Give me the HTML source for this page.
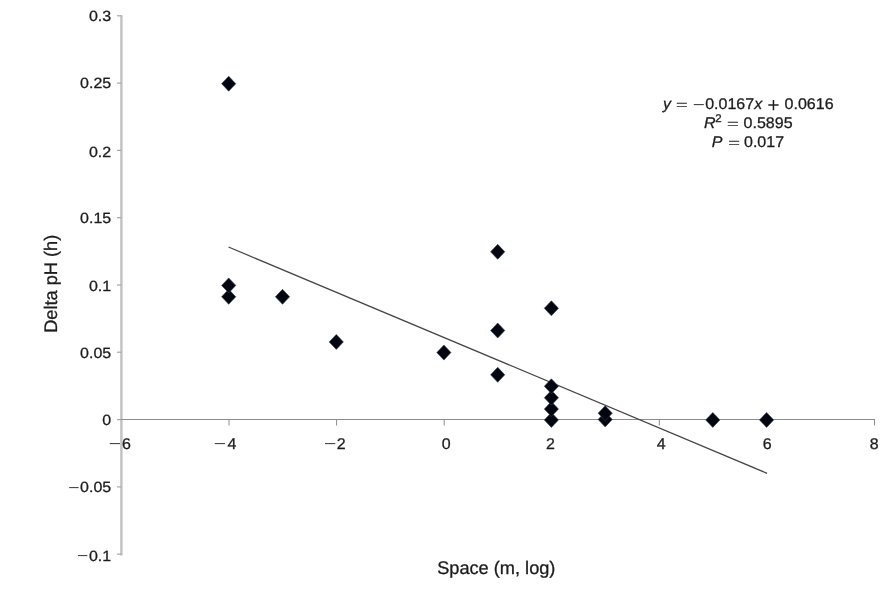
<!DOCTYPE html>
<html><head><meta charset="utf-8"><title>Chart</title>
<style>
html,body{margin:0;padding:0;background:#fff;}
body{width:883px;height:590px;overflow:hidden;position:relative;}
svg{position:absolute;left:0;top:0;display:block;}
text{font-family:"Liberation Sans",sans-serif;text-rendering:geometricPrecision;fill:#1c1c1c;stroke:#1c1c1c;stroke-width:0.3px;stroke-linejoin:round;}
.t{font-size:16px;}
.l{font-size:18.2px;}
.e{font-size:16px;}
.i{font-style:italic;}
.o{font-size:16px;stroke:none;}
.s{font-size:11.5px;}
</style></head><body>
<svg width="883" height="590" viewBox="0 0 883 590">
<rect width="883" height="590" fill="#ffffff"/>

<line x1="121.4" y1="15.2" x2="121.4" y2="555.5" stroke="#c1c1c1" stroke-width="2.4"/>
<line x1="120.2" y1="419.5" x2="875" y2="419.5" stroke="#8c8c8c" stroke-width="1.15"/>
<line x1="117.0" y1="15.8" x2="121.4" y2="15.8" stroke="#a6a6a6" stroke-width="1.2"/>
<text class="t" transform="translate(111.2 21.3) scale(1 0.925)" text-anchor="end">0.3</text>
<line x1="117.0" y1="83.1" x2="121.4" y2="83.1" stroke="#a6a6a6" stroke-width="1.2"/>
<text class="t" transform="translate(111.2 88.0) scale(1 0.925)" text-anchor="end">0.25</text>
<line x1="117.0" y1="150.4" x2="121.4" y2="150.4" stroke="#a6a6a6" stroke-width="1.2"/>
<text class="t" transform="translate(111.2 156.8) scale(1 0.925)" text-anchor="end">0.2</text>
<line x1="117.0" y1="217.7" x2="121.4" y2="217.7" stroke="#a6a6a6" stroke-width="1.2"/>
<text class="t" transform="translate(111.2 222.5) scale(1 0.925)" text-anchor="end">0.15</text>
<line x1="117.0" y1="285.0" x2="121.4" y2="285.0" stroke="#a6a6a6" stroke-width="1.2"/>
<text class="t" transform="translate(111.2 291.4) scale(1 0.925)" text-anchor="end">0.1</text>
<line x1="117.0" y1="352.2" x2="121.4" y2="352.2" stroke="#a6a6a6" stroke-width="1.2"/>
<text class="t" transform="translate(111.2 357.5) scale(1 0.925)" text-anchor="end">0.05</text>
<line x1="117.0" y1="419.6" x2="121.4" y2="419.6" stroke="#a6a6a6" stroke-width="1.2"/>
<text class="t" transform="translate(111.2 424.6) scale(1 0.925)" text-anchor="end">0</text>
<line x1="117.0" y1="486.9" x2="121.4" y2="486.9" stroke="#a6a6a6" stroke-width="1.2"/>
<text class="t" transform="translate(111.2 492.1) scale(1 0.925)" text-anchor="end">0.05</text>
<text class="o" transform="translate(68.2 491.6) scale(1.209 0.82)">−</text>
<line x1="117.0" y1="554.1" x2="121.4" y2="554.1" stroke="#a6a6a6" stroke-width="1.2"/>
<text class="t" transform="translate(111.2 560.8) scale(1 0.925)" text-anchor="end">0.1</text>
<text class="o" transform="translate(77.1 560.1) scale(1.209 0.82)">−</text>
<text class="t" transform="translate(126.5 448.5) scale(1 0.97)" text-anchor="middle">6</text>
<text class="o" transform="translate(108.8 447.5) scale(1.316 0.82)">−</text>
<line x1="229.0" y1="419.5" x2="229.0" y2="425.5" stroke="#8e8e8e" stroke-width="1"/>
<text class="t" transform="translate(232.0 448.5) scale(1 0.97)" text-anchor="middle">4</text>
<text class="o" transform="translate(213.8 447.5) scale(1.316 0.82)">−</text>
<line x1="336.6" y1="419.5" x2="336.6" y2="425.5" stroke="#8e8e8e" stroke-width="1"/>
<text class="t" transform="translate(341.1 448.5) scale(1 0.97)" text-anchor="middle">2</text>
<text class="o" transform="translate(323.9 447.5) scale(1.316 0.82)">−</text>
<line x1="444.2" y1="419.5" x2="444.2" y2="425.5" stroke="#8e8e8e" stroke-width="1"/>
<text class="t" transform="translate(446.2 448.5) scale(1 0.97)" text-anchor="middle">0</text>
<line x1="551.7" y1="419.5" x2="551.7" y2="425.5" stroke="#8e8e8e" stroke-width="1"/>
<text class="t" transform="translate(550.5 448.5) scale(1 0.97)" text-anchor="middle">2</text>
<line x1="659.3" y1="419.5" x2="659.3" y2="425.5" stroke="#8e8e8e" stroke-width="1"/>
<text class="t" transform="translate(661.3 448.5) scale(1 0.97)" text-anchor="middle">4</text>
<line x1="766.9" y1="419.5" x2="766.9" y2="425.5" stroke="#8e8e8e" stroke-width="1"/>
<text class="t" transform="translate(767.3 448.5) scale(1 0.97)" text-anchor="middle">6</text>
<line x1="874.5" y1="419.5" x2="874.5" y2="425.5" stroke="#8e8e8e" stroke-width="1"/>
<text class="t" transform="translate(874.2 448.5) scale(1 0.97)" text-anchor="middle">8</text>
<line x1="228.5" y1="247.0" x2="767.1" y2="473.3" stroke="#464646" stroke-width="1.25"/>
<path d="M228.7 289.3L235.8 296.8L228.7 304.3L221.6 296.8Z" fill="#03050f" stroke="#333f5c" stroke-width="0.6"/>
<path d="M228.7 277.9L235.8 285.4L228.7 292.9L221.6 285.4Z" fill="#03050f" stroke="#333f5c" stroke-width="0.6"/>
<path d="M228.7 76.2L235.8 83.7L228.7 91.2L221.6 83.7Z" fill="#03050f" stroke="#333f5c" stroke-width="0.6"/>
<path d="M282.5 289.3L289.6 296.8L282.5 304.3L275.4 296.8Z" fill="#03050f" stroke="#333f5c" stroke-width="0.6"/>
<path d="M336.3 334.4L343.4 341.9L336.3 349.4L329.2 341.9Z" fill="#03050f" stroke="#333f5c" stroke-width="0.6"/>
<path d="M443.9 345.1L451.0 352.6L443.9 360.1L436.8 352.6Z" fill="#03050f" stroke="#333f5c" stroke-width="0.6"/>
<path d="M497.7 367.3L504.8 374.8L497.7 382.3L490.6 374.8Z" fill="#03050f" stroke="#333f5c" stroke-width="0.6"/>
<path d="M497.7 323.0L504.8 330.5L497.7 338.0L490.6 330.5Z" fill="#03050f" stroke="#333f5c" stroke-width="0.6"/>
<path d="M497.7 244.3L504.8 251.8L497.7 259.3L490.6 251.8Z" fill="#03050f" stroke="#333f5c" stroke-width="0.6"/>
<path d="M551.4 412.4L558.5 419.9L551.4 427.4L544.3 419.9Z" fill="#03050f" stroke="#333f5c" stroke-width="0.6"/>
<path d="M551.4 401.6L558.5 409.1L551.4 416.6L544.3 409.1Z" fill="#03050f" stroke="#333f5c" stroke-width="0.6"/>
<path d="M551.4 390.2L558.5 397.7L551.4 405.2L544.3 397.7Z" fill="#03050f" stroke="#333f5c" stroke-width="0.6"/>
<path d="M551.4 378.8L558.5 386.3L551.4 393.8L544.3 386.3Z" fill="#03050f" stroke="#333f5c" stroke-width="0.6"/>
<path d="M551.4 300.8L558.5 308.3L551.4 315.8L544.3 308.3Z" fill="#03050f" stroke="#333f5c" stroke-width="0.6"/>
<path d="M605.2 411.9L612.3 419.4L605.2 426.9L598.1 419.4Z" fill="#03050f" stroke="#333f5c" stroke-width="0.6"/>
<path d="M605.2 405.7L612.3 413.2L605.2 420.7L598.1 413.2Z" fill="#03050f" stroke="#333f5c" stroke-width="0.6"/>
<path d="M712.8 412.4L719.9 419.9L712.8 427.4L705.7 419.9Z" fill="#03050f" stroke="#333f5c" stroke-width="0.6"/>
<path d="M766.6 412.4L773.7 419.9L766.6 427.4L759.5 419.9Z" fill="#03050f" stroke="#333f5c" stroke-width="0.6"/>
<text class="l" x="496.3" y="573.7" text-anchor="middle">Space (m, log)</text>
<text class="l" transform="translate(56.8 283.8) rotate(-90)" text-anchor="middle">Delta pH (h)</text>
<text class="e i" transform="translate(662.9 109.4) scale(1 0.97)">y</text>
<text class="o" transform="translate(675.8 108.7) scale(1.306 0.8)">=</text>
<text class="o" transform="translate(692.7 108.8) scale(1.295 0.82)">−</text>
<text class="e" transform="translate(705.2 109.4) scale(1 0.97)">0.0167</text>
<text class="e i" transform="translate(754.2 109.4) scale(1 0.97)">x</text>
<text class="o" transform="translate(767.2 111.8) scale(1.327 1.3)">+</text>
<text class="e" transform="translate(784.6 109.4) scale(1 0.97)">0.0616</text>
<text class="e i" transform="translate(704.0 128.3) scale(1 0.97)">R</text>
<text class="s" transform="translate(715.3 122.3) scale(1 0.97)">2</text>
<text class="o" transform="translate(726.8 128.4) scale(1.306 0.8)">=</text>
<text class="e" transform="translate(743.6 128.3) scale(1 0.97)">0.5895</text>
<text class="e i" transform="translate(711.8 147.3) scale(1 0.97)">P</text>
<text class="o" transform="translate(728.1 147.3) scale(1.306 0.8)">=</text>
<text class="e" transform="translate(744.0 147.3) scale(1 0.97)">0.017</text>
</svg></body></html>
